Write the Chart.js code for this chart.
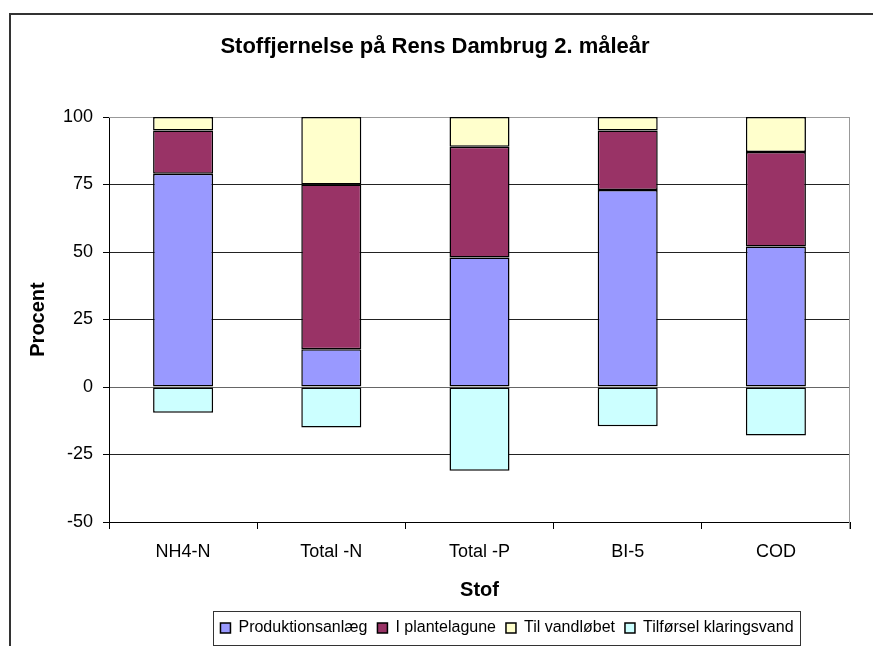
<!DOCTYPE html>
<html>
<head>
<meta charset="utf-8">
<script src="https://cdn.jsdelivr.net/npm/chart.js@4.4.1/dist/chart.umd.min.js"></script>
<style>
  html, body { margin: 0; padding: 0; background: #fff; }
  #wrap { width: 873px; height: 646px; position: relative; }
</style>
</head>
<body>
<div id="wrap"><canvas id="c" width="873" height="646"></canvas></div>
<script>
const categories = ["NH4-N", "Total -N", "Total -P", "BI-5", "COD"];
const produktionsanlaeg = [79, 14, 48, 73, 52];
const plantelagune = [16, 61, 41, 22, 35];
const tilVandloebet = [5, 25, 11, 5, 13];
const tilfoerselKlaringsvand = [-9.5, -15, -31, -14.5, -18];
const seriesNames = ["Produktionsanlæg", "I plantelagune", "Til vandløbet", "Tilførsel klaringsvand"];
const yTicks = [-50, -25, 0, 25, 50, 75, 100];

const FONT = "'Liberation Sans', Arial, sans-serif";

const framePlugin = {
  id: 'frame',
  beforeDraw(chart) {
    const ctx = chart.ctx;
    ctx.save();
    ctx.fillStyle = '#fff';
    ctx.fillRect(0, 0, chart.width, chart.height);
    ctx.strokeStyle = '#333';
    ctx.lineWidth = 2;
    ctx.strokeRect(10, 14, 1000, 1000);
    ctx.restore();
  },
  afterLayout(chart) {
    const lg = chart.legend;
    if (lg) {
      const dx = 507 - (lg.left + lg.right) / 2;
      lg.left += dx; lg.right += dx;
      lg.top += 2; lg.bottom += 2;
    }
  },
  beforeDatasetsDraw(chart) {
    const ctx = chart.ctx, a = chart.chartArea;
    ctx.save();
    ctx.strokeStyle = '#999';
    ctx.lineWidth = 1;
    ctx.beginPath();
    ctx.moveTo(a.left, a.top + 0.5); ctx.lineTo(a.right, a.top + 0.5);
    ctx.moveTo(a.right - 0.5, a.top); ctx.lineTo(a.right - 0.5, a.bottom + 7);
    ctx.stroke();
    ctx.restore();
  },
  afterDraw(chart) {
    const lg = chart.legend;
    if (!lg || !lg.legendHitBoxes || !lg.legendHitBoxes.length) return;
    const hb = lg.legendHitBoxes;
    const x0 = hb[0].left - 7;
    const last = hb[hb.length - 1];
    const x1 = last.left + last.width + 7;
    const ctx = chart.ctx;
    ctx.save();
    ctx.strokeStyle = '#333';
    ctx.lineWidth = 1;
    ctx.strokeRect(Math.round(x0) + 0.5, 611.5, Math.round(x1 - x0), 34);
    ctx.restore();
  }
};

new Chart(document.getElementById('c'), {
  type: 'bar',
  data: {
    labels: categories,
    datasets: [
      { label: seriesNames[0], data: produktionsanlaeg, backgroundColor: '#9999FF' },
      { label: seriesNames[1], data: plantelagune, backgroundColor: '#993366' },
      { label: seriesNames[2], data: tilVandloebet, backgroundColor: '#FFFFCC' },
      { label: seriesNames[3], data: tilfoerselKlaringsvand, backgroundColor: '#CCFFFF' }
    ].map(d => Object.assign(d, {
      borderColor: '#000', borderWidth: 1.5, borderSkipped: false,
      barPercentage: 0.405, categoryPercentage: 1.0, stack: 's'
    }))
  },
  options: {
    responsive: false,
    animation: false,
    devicePixelRatio: 1,
    layout: { padding: { left: 20, right: 23, top: 0, bottom: 2 } },
    plugins: {
      title: {
        display: true,
        text: 'Stoffjernelse på Rens Dambrug 2. måleår',
        color: '#000',
        font: { family: FONT, size: 22, weight: 'bold', lineHeight: 1.2 },
        padding: { top: 34, bottom: 56.6 }
      },
      legend: {
        display: true,
        position: 'bottom',
        labels: {
          color: '#000',
          font: { family: FONT, size: 16 },
          boxWidth: 10, boxHeight: 10, padding: 10
        }
      },
      tooltip: { enabled: false }
    },
    scales: {
      x: {
        stacked: true,
        grid: { display: true, drawOnChartArea: false, drawTicks: true, tickLength: 7, color: '#000', offset: true },
        border: { display: true, color: '#000', width: 1 },
        ticks: { color: '#000', font: { family: FONT, size: 18 }, padding: 12, maxRotation: 0 },
        title: { display: true, text: 'Stof', color: '#000', font: { family: FONT, size: 20, weight: 'bold', lineHeight: 1.2 }, padding: { top: 0, bottom: 6 } },
        afterFit(scale) { scale.height = 86; }
      },
      y: {
        stacked: true,
        min: -50, max: 100,
        afterBuildTicks(scale) { scale.ticks = yTicks.map(v => ({ value: v })); },
        grid: {
          drawTicks: true, tickLength: 6,
          color: ctx => (ctx.tick && ctx.tick.value === 100) ? '#aaa' : (ctx.tick && ctx.tick.value === 0 ? '#666' : '#222'),
          tickColor: '#000'
        },
        border: { display: true, color: '#000', width: 1 },
        ticks: { color: '#000', font: { family: FONT, size: 18 }, padding: 10 },
        title: { display: true, text: 'Procent', color: '#000', font: { family: FONT, size: 20, weight: 'bold', lineHeight: 1.2 }, padding: { top: 6, bottom: 0 } },
        afterFit(scale) { scale.width = 89; }
      }
    }
  },
  plugins: [framePlugin]
});
</script>
</body>
</html>
